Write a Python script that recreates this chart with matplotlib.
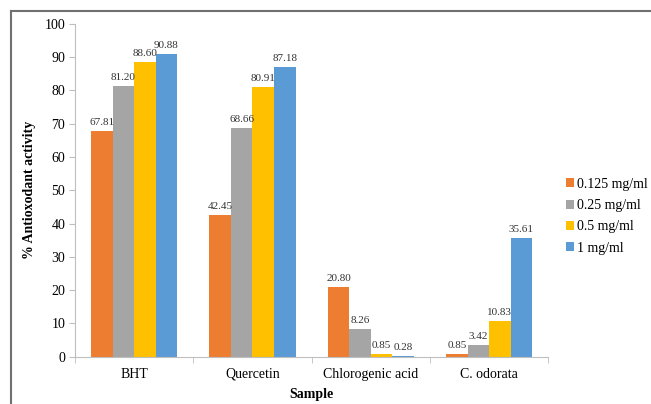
import numpy as np
import matplotlib.pyplot as plt
from matplotlib.lines import Line2D

plt.rcParams["font.family"] = "Liberation Serif"

samples = ["BHT", "Quercetin", "Chlorogenic acid", "C. odorata"]
concs = ["0.125 mg/ml", "0.25 mg/ml", "0.5 mg/ml", "1 mg/ml"]
c0125 = [67.81, 42.45, 20.80, 0.85]
c025 = [81.20, 68.66, 8.26, 3.42]
c05 = [88.60, 80.91, 0.85, 10.83]
c1 = [90.88, 87.18, 0.28, 35.61]
colors = ["#ED7D31", "#A5A5A5", "#FFC000", "#5B9BD5"]

fig = plt.figure(figsize=(6.51, 4.04), dpi=100)
ax = fig.add_axes([0.1152, 0.117, 0.727, 0.824])

x = np.arange(len(samples))
w = 0.182
series = [c0125, c025, c05, c1]
for i, (vals, lab, col) in enumerate(zip(series, concs, colors)):
    pos = x + (i - 1.5) * w
    bars = ax.bar(pos, vals, w, color=col, label=lab)
    for b, v in zip(bars, vals):
        ax.text(b.get_x() + b.get_width() / 2, v + 1.2, f"{v:.2f}",
                ha="center", va="bottom", fontsize=8, color="#333333")

ax.set_xlim(-0.5, len(samples) - 0.5)
ax.set_ylim(0, 100)
ax.set_yticks(range(0, 101, 10))
ax.set_xticks(x)
ax.set_xticklabels(samples, fontsize=10)
ax.set_xticks(np.arange(-0.5, len(samples)), minor=True)
ax.tick_params(axis="x", which="major", length=0, pad=8)
ax.tick_params(axis="x", which="minor", length=4, color="#BFBFBF")
ax.tick_params(axis="y", labelsize=10, length=4, color="#BFBFBF", pad=3)

for s in ["top", "right"]:
    ax.spines[s].set_visible(False)
for s in ["left", "bottom"]:
    ax.spines[s].set_color("#BFBFBF")

ax.set_xlabel("Sample", fontsize=10, fontweight="bold", labelpad=5)
ax.set_ylabel("% Antioxodant activity", fontsize=10, fontweight="bold", labelpad=6)

ax.legend(loc="center left", bbox_to_anchor=(1.01, 0.422), frameon=False,
          fontsize=10, handlelength=0.6, handleheight=0.6, handletextpad=0.25,
          labelspacing=0.6)

# outer frame: top and left edges only
fig.add_artist(Line2D([0.017, 1.0], [0.973, 0.973], transform=fig.transFigure,
                      color="#707070", lw=1.5))
fig.add_artist(Line2D([0.017, 0.017], [0.0, 0.973], transform=fig.transFigure,
                      color="#707070", lw=1.5))

fig.savefig("out.png", dpi=100)
